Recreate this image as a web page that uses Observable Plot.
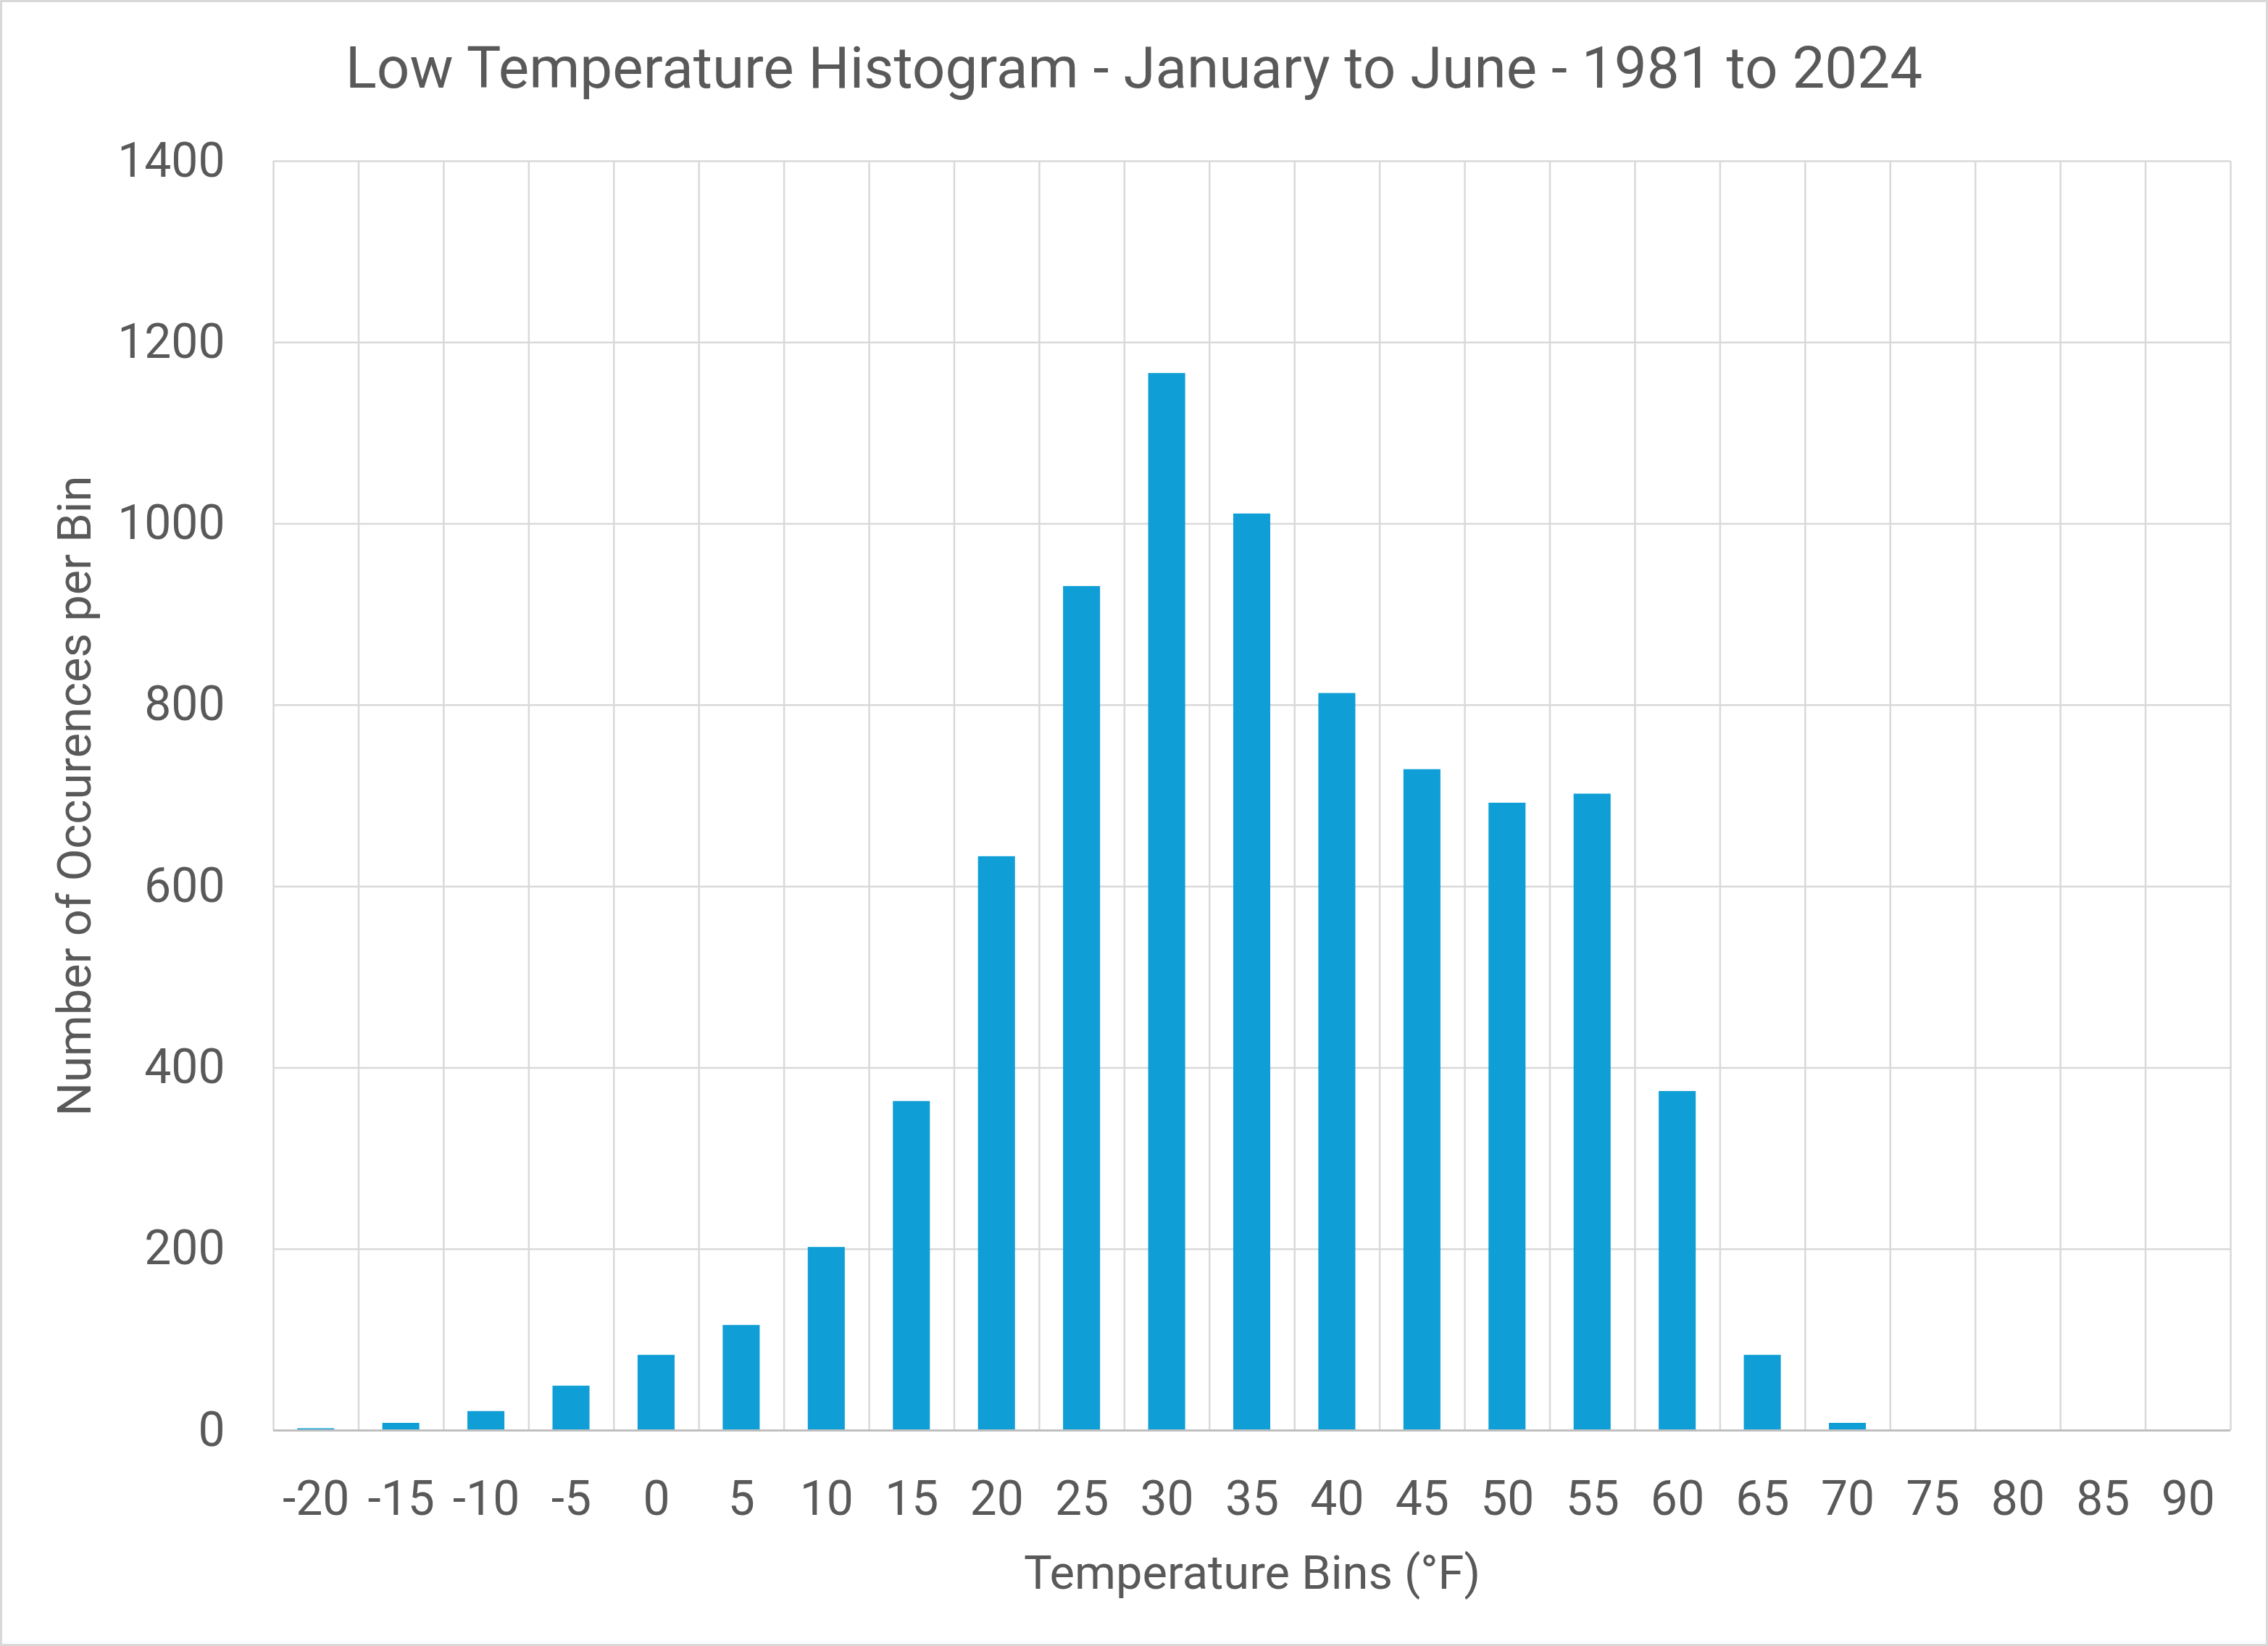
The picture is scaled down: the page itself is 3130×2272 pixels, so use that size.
<!DOCTYPE html>
<html>
<head>
<meta charset="utf-8">
<script src="https://cdn.jsdelivr.net/npm/d3@7"></script>
<script src="https://cdn.jsdelivr.net/npm/@observablehq/plot@0.6"></script>
<style>
  html, body { margin: 0; padding: 0; background: #ffffff; }
  #chart { position: relative; width: 3130px; height: 2272px; overflow: hidden; background: #ffffff; font-family: Roboto, "Noto Sans", sans-serif; }
  #frame { position: absolute; left: 0; top: 0; right: 0; bottom: 0; border: 3px solid #d9d9d9; pointer-events: none; box-sizing: border-box; }
  #title { height: 160px; box-sizing: border-box; padding-top: 47px; font-size: 80px; line-height: 94px; text-align: center; color: #595959; white-space: nowrap; }
  #plot svg { display: block; }
</style>
</head>
<body>
<div id="chart">
  <div id="title">Low Temperature Histogram - January to June - 1981 to 2024</div>
  <div id="plot"></div>
  <div id="frame"></div>
</div>
<script>
// Temperature bins (°F) — category labels
const bins = [-20, -15, -10, -5, 0, 5, 10, 15, 20, 25, 30, 35, 40, 45, 50, 55, 60, 65, 70, 75, 80, 85, 90];
// Number of occurrences per bin
const counts = [2, 8, 21, 49, 83, 116, 202, 363, 633, 931, 1166, 1011, 813, 729, 692, 702, 374, 83, 8, 0, 0, 0, 0];
// Y axis tick labels
const yTicks = [0, 200, 400, 600, 800, 1000, 1200, 1400];

const binWidth = 5;
const barHalf = (binWidth / 2) / 2.3; // Excel gap width 130%
const data = bins.map((b, i) => ({ bin: b, count: counts[i] }));
const edges = bins.map(b => b - binWidth / 2).concat([bins[bins.length - 1] + binWidth / 2]);

const chart = Plot.plot({
  width: 3130,
  height: 2112,
  marginTop: 62,
  marginBottom: 298,
  marginLeft: 377,
  marginRight: 52,
  style: { fontFamily: "Roboto, 'Noto Sans', sans-serif", color: "#595959", background: "#ffffff", overflow: "visible" },
  x: { domain: [bins[0] - binWidth / 2, bins[bins.length - 1] + binWidth / 2] },
  y: { domain: [0, 1400] },
  marks: [
    Plot.ruleY(yTicks, { stroke: "#d9d9d9", strokeWidth: 2.5 }),
    Plot.ruleX(edges, { stroke: "#d9d9d9", strokeWidth: 2.5 }),
    Plot.rectY(data, { x1: d => d.bin - barHalf, x2: d => d.bin + barHalf, y1: 0, y2: "count", fill: "#0F9ED5" }),
    Plot.ruleY([0], { stroke: "#bfbfbf", strokeWidth: 3 }),
    Plot.axisX(bins, { tickSize: 0, tickPadding: 70, fontSize: 66, tickFormat: d => String(d), label: null }),
    Plot.axisY(yTicks, { tickSize: 0, tickPadding: 67, fontSize: 66, tickFormat: d => String(d), label: null }),
    Plot.text(["Temperature Bins (°F)"], { frameAnchor: "bottom", dy: 198, fontSize: 65, lineAnchor: "middle", textAnchor: "middle", fill: "#595959" }),
    Plot.text(["Number of Occurences per Bin"], { frameAnchor: "left", dx: -273, rotate: -90, fontSize: 65, lineAnchor: "middle", textAnchor: "middle", fill: "#595959" })
  ]
});
document.getElementById("plot").appendChild(chart);
</script>
</body>
</html>
